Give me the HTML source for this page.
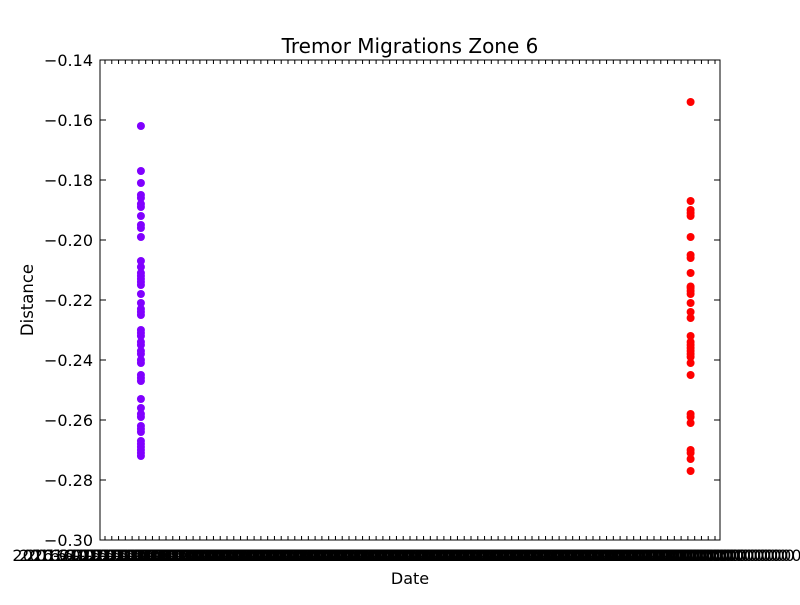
<!DOCTYPE html>
<html><head><meta charset="utf-8"><style>
body{margin:0;background:#fff;}
svg text{font-family:"DejaVu Sans","Liberation Sans",sans-serif;}
</style></head><body>
<svg id="chart" width="800" height="600" xmlns="http://www.w3.org/2000/svg">
<rect width="800" height="600" fill="#fff"/>
<text x="410" y="53" font-size="20" text-anchor="middle">Tremor Migrations Zone 6</text>
<text x="410" y="584" font-size="16" text-anchor="middle">Date</text>
<text x="33" y="300" font-size="16.5" text-anchor="middle" transform="rotate(-90 33 300)">Distance</text>
<g id="grid"></g>
<g id="pts"></g>
<rect x="100" y="60" width="620" height="480" fill="none" stroke="#000" stroke-width="1"/>
</svg>
<script>
const yTicks=[-0.14,-0.16,-0.18,-0.20,-0.22,-0.24,-0.26,-0.28,-0.30];
const xTickCount=91;
const purpleX=5.3;
const redX=86.4;
const purpleVals=[-0.162,-0.177,-0.181,-0.185,-0.186,-0.188,-0.189,-0.192,-0.195,-0.196,-0.199,-0.207,-0.209,-0.211,-0.212,-0.213,-0.214,-0.215,-0.218,-0.221,-0.223,-0.224,-0.225,-0.230,-0.231,-0.232,-0.234,-0.235,-0.237,-0.238,-0.240,-0.241,-0.245,-0.246,-0.247,-0.253,-0.256,-0.258,-0.259,-0.262,-0.263,-0.264,-0.267,-0.268,-0.269,-0.270,-0.271,-0.272];
const redVals=[-0.154,-0.187,-0.190,-0.191,-0.192,-0.199,-0.205,-0.206,-0.211,-0.2155,-0.216,-0.217,-0.218,-0.221,-0.224,-0.226,-0.232,-0.234,-0.235,-0.236,-0.237,-0.238,-0.239,-0.241,-0.245,-0.258,-0.259,-0.261,-0.270,-0.271,-0.273,-0.277];
const NS='http://www.w3.org/2000/svg';
const X0=100,X1=720,Y0=60,Y1=540;
function sx(i){return 105+i*(610/(xTickCount-1));}
function sy(v){return Y0+(-0.14-v)/(0.16)*(Y1-Y0);}
function mk(t,a,p){const e=document.createElementNS(NS,t);for(const k in a)e.setAttribute(k,a[k]);p.appendChild(e);return e;}
const g=document.getElementById('grid');
yTicks.forEach(v=>{const y=sy(v);
 const l=mk('line',{x1:X0,x2:X0+6,y1:y,y2:y,stroke:'#000'},g);
 
 
 const r=mk('line',{x1:X1-6,x2:X1,y1:y,y2:y,stroke:'#000'},g);
 
 
 const t=mk('text',{x:93,y:y+6,'font-size':16,'text-anchor':'end'},g);
 
 
 t.textContent='\u2212'+Math.abs(v).toFixed(2);
});
for(let i=0;i<xTickCount;i++){const x=sx(i);
 const b=mk('line',{x1:x,x2:x,y1:Y1,y2:Y1-4,stroke:'#000'},g);
 
 
 const t=mk('line',{x1:x,x2:x,y1:Y0,y2:Y0+4,stroke:'#000'},g);
 
 
 const lb=mk('text',{x:x,y:561,'font-size':16,'text-anchor':'middle'},g);
 
 
 lb.textContent=i<4?'2016-01-01 00:00:00.0':(i>84?'10000000000000000':'2016-01-01 00:00');
}
const p=document.getElementById('pts');
purpleVals.forEach(v=>{const c=mk('circle',{cx:sx(purpleX),cy:sy(v),r:4,fill:'#8000ff'},p);
 
 });
redVals.forEach(v=>{const c=mk('circle',{cx:sx(redX),cy:sy(v),r:4,fill:'#ff0000'},p);
 
 });
</script>
</body></html>
